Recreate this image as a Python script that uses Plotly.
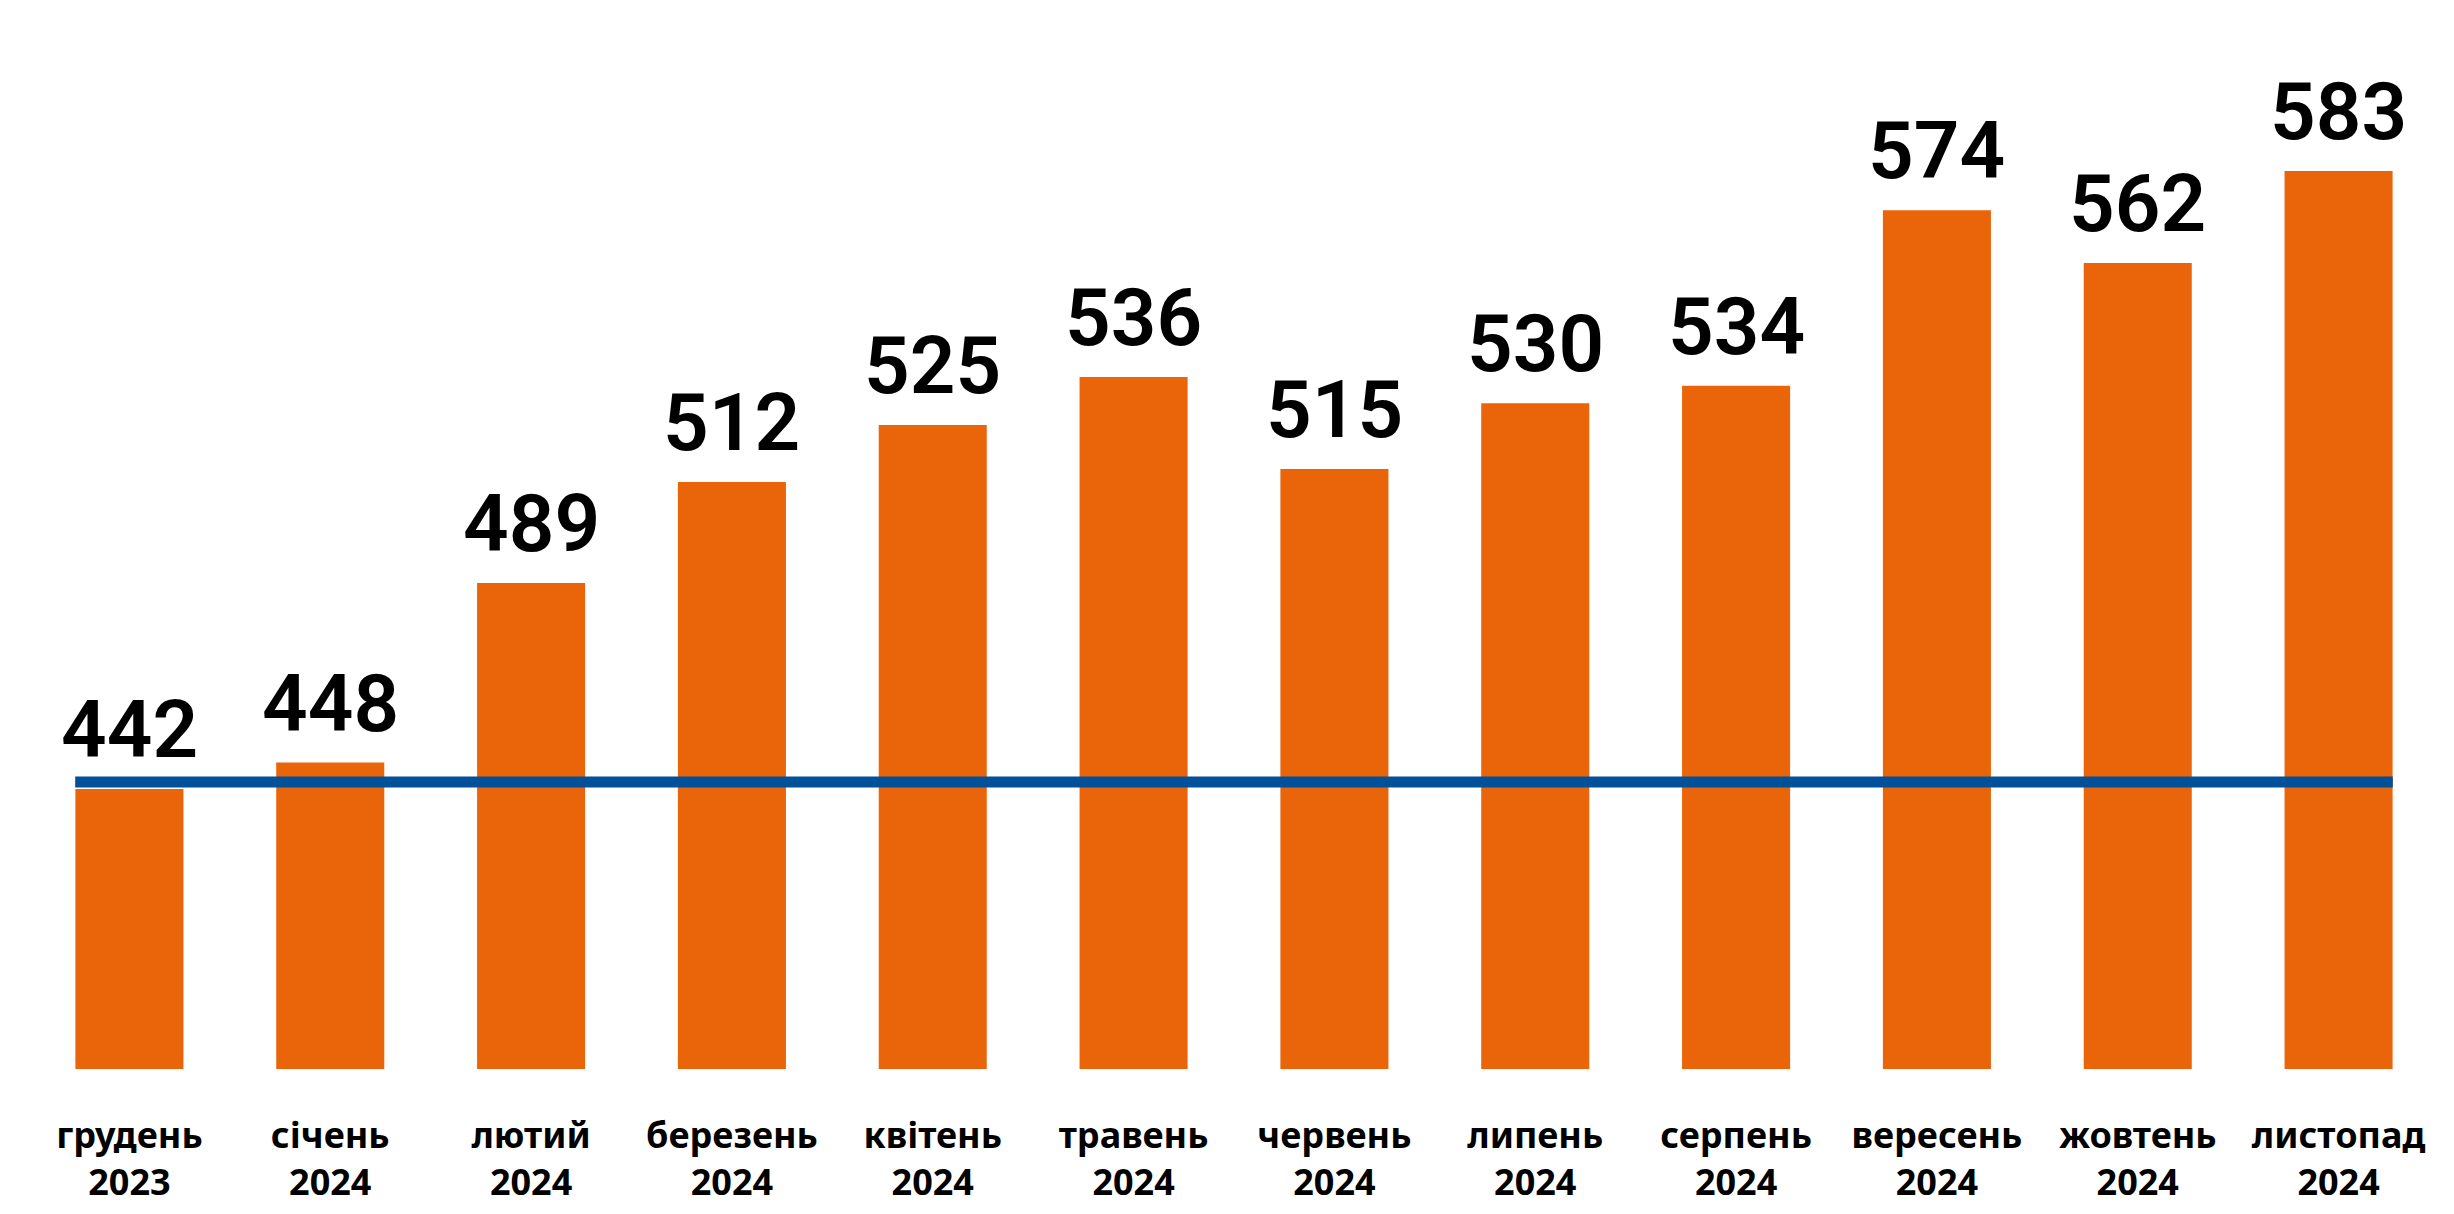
import plotly.graph_objects as go

months = ["грудень<br>2023", "січень<br>2024", "лютий<br>2024", "березень<br>2024",
          "квітень<br>2024", "травень<br>2024", "червень<br>2024", "липень<br>2024",
          "серпень<br>2024", "вересень<br>2024", "жовтень<br>2024", "листопад<br>2024"]
values = [442, 448, 489, 512, 525, 536, 515, 530, 534, 574, 562, 583]
baseline = 442

ORANGE = "#EA6509"
BLUE = "#00519A"

fig = go.Figure()
fig.add_trace(go.Bar(x=months, y=values, marker=dict(color=ORANGE, line=dict(width=0)),
                     hoverinfo="skip"))

for m, v in zip(months, values):
    fig.add_annotation(x=m, y=v, text=str(v), showarrow=False, yanchor="bottom",
                       yshift=10, font=dict(family="Roboto", size=80, color="#000000", weight=600))

n = len(months)
fig.add_shape(type="line", xref="x", yref="y", ysizemode="pixel", yanchor=baseline,
              x0=-0.27, x1=n - 1 + 0.27, y0=7, y1=7,
              line=dict(color=BLUE, width=11), layer="above")

fig.update_layout(
    width=2446, height=1206,
    margin=dict(l=21, r=15, t=52, b=145, autoexpand=False),
    paper_bgcolor="white", plot_bgcolor="white",
    bargap=0.462, showlegend=False,
    xaxis=dict(showgrid=False, zeroline=False, showline=False, ticks="",
               automargin=False, ticklabelstandoff=42,
               tickfont=dict(family="Noto Sans", size=36, color="#000000", weight=700)),
    yaxis=dict(range=[378.1, 608.3], showgrid=False, zeroline=False, showline=False,
               automargin=False, showticklabels=False, ticks=""),
)

fig.write_html("out.html")
